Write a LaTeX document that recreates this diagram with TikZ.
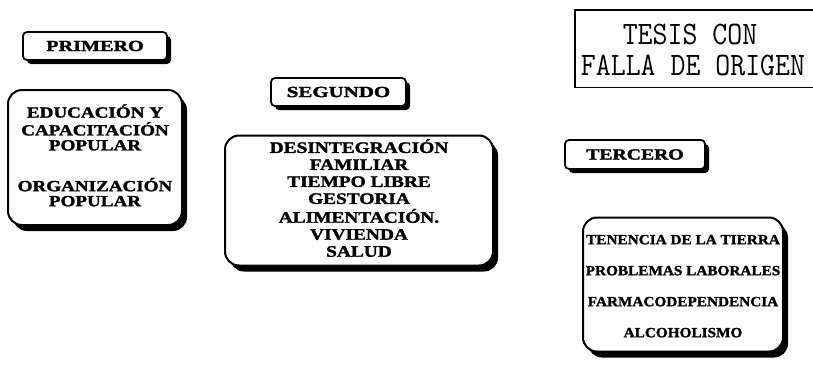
\documentclass[tikz,border=0pt]{standalone}
\usepackage{fontspec}
\setmainfont{Liberation Serif}
\newfontface\heavy{Liberation Serif Bold}[FakeBold=1.6]
\usetikzlibrary{shadows}
\tikzset{
  bigbox/.style={draw=black, line width=2pt, fill=white, rounded corners=14pt,
    inner sep=0pt, drop shadow={shadow xshift=5pt, shadow yshift=-6pt, fill=black, opacity=1}},
  labelbox/.style={draw=black, line width=1.8pt, fill=white, rounded corners=4pt,
    inner sep=0pt, drop shadow={shadow xshift=4pt, shadow yshift=-4pt, fill=black, opacity=1}},
  plain/.style={inner sep=0pt, align=center},
  stamptext/.style={inner sep=0pt, align=center, font=\ttfamily\fontsize{29}{29}\selectfont}
}
\begin{document}
\begin{tikzpicture}[x=1pt,y=-1pt]
\useasboundingbox (0,0) rectangle (813,364);
% stamp
\node[inner sep=0pt, minimum width=238pt, minimum height=77pt, anchor=north west] (stamp) at (575,10) {};
\draw[line width=1.5pt] (stamp.north east) -- (stamp.north west) -- (stamp.south west) -- (stamp.south east);
\node[stamptext] (stamp1) at (690,34) {\scalebox{1}[1.13]{TESIS CON}};
\node[stamptext] (stamp2) at (693,65) {\scalebox{1}[1.13]{FALLA DE ORIGEN}};
% label boxes
\node[labelbox, minimum width=144pt, minimum height=28pt] (primero) at (95,46)
  {\heavy\fontsize{15.5}{15}\selectfont\scalebox{1.3}[1]{PRIMERO}};
\node[labelbox, minimum width=135pt, minimum height=28pt] (segundo) at (338.5,92)
  {\heavy\fontsize{15.5}{15}\selectfont\scalebox{1.35}[1]{SEGUNDO}};
\node[labelbox, minimum width=140pt, minimum height=29pt] (tercero) at (635,154.5)
  {\heavy\fontsize{15.5}{15}\selectfont\scalebox{1.27}[1]{TERCERO}};
% big boxes
\node[bigbox, minimum width=174pt, minimum height=135pt] (caja1) at (95,157.5)
  {\heavy\fontsize{15.5}{15}\selectfont\scalebox{1.23}[1]{\begin{tabular}{@{}c@{}}EDUCACIÓN Y\\CAPACITACIÓN\\POPULAR\\[23pt]ORGANIZACIÓN\\POPULAR\end{tabular}}};
\node[bigbox, minimum width=268pt, minimum height=130pt] (caja2) at (359,200.5)
  {\heavy\fontsize{16}{17}\selectfont\scalebox{1.21}[1]{\begin{tabular}{@{}c@{}}DESINTEGRACIÓN\\FAMILIAR\\TIEMPO LIBRE\\GESTORIA\\ALIMENTACIÓN.\\VIVIENDA\\SALUD\end{tabular}}};
\node[bigbox, minimum width=200pt, minimum height=134pt] (caja3) at (683,284.5)
  {\heavy\fontsize{14}{31}\selectfont\scalebox{1.09}[1]{\begin{tabular}{@{}c@{}}TENENCIA DE LA TIERRA\\PROBLEMAS LABORALES\\FARMACODEPENDENCIA\\ALCOHOLISMO\end{tabular}}};
\end{tikzpicture}
\end{document}
